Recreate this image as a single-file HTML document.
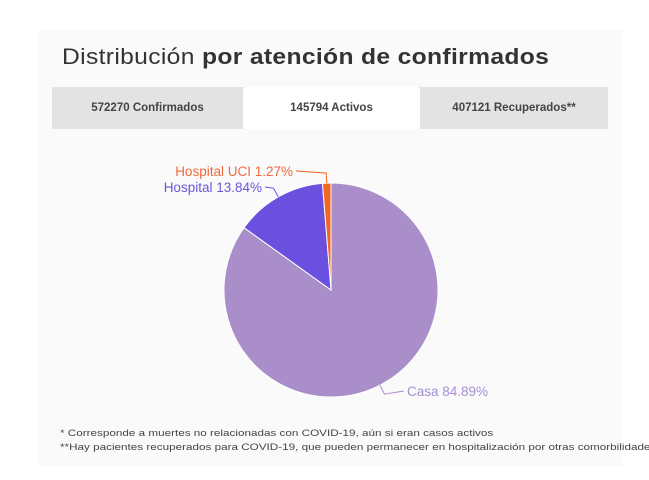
<!DOCTYPE html>
<html><head><meta charset="utf-8"><style>
body{margin:0;width:649px;height:480px;background:#fff;font-family:"Liberation Sans",sans-serif;position:relative;overflow:hidden}
#card{position:absolute;left:38px;top:30px;width:584px;height:436px;background:#fafafa}
h1{position:absolute;left:62px;top:44px;margin:0;font-size:22px;font-weight:normal;color:#333;letter-spacing:0.3px;transform:scaleX(1.12);transform-origin:left;white-space:nowrap}
h1 b{font-weight:bold}
.tabs{position:absolute;left:52px;top:87px;width:556px;height:42px;background:#e3e3e3;display:flex}
.tab{font-size:11.5px;font-weight:bold;color:#444;display:flex;align-items:center;justify-content:center}
.tab.active{background:#fff;border-radius:3px 3px 0 0}
.fn{position:absolute;left:60px;font-size:9.5px;color:#444;white-space:nowrap;transform:scaleX(1.23);transform-origin:left}
</style></head><body>
<div id="card"></div>
<h1>Distribución <b>por atención de confirmados</b></h1>
<div class="tabs">
<div class="tab" style="width:191px">572270 Confirmados</div>
<div class="tab active" style="width:177px">145794 Activos</div>
<div class="tab" style="width:188px">407121 Recuperados**</div>
</div>
<svg id="pie" width="649" height="480" style="position:absolute;left:0;top:0"></svg>
<div class="fn" style="top:428px">* Corresponde a muertes no relacionadas con COVID-19, aún si eran casos activos</div>
<div class="fn" style="top:442px">**Hay pacientes recuperados para COVID-19, que pueden permanecer en hospitalización por otras comorbilidades</div>
<script>
const categories=["Casa","Hospital","Hospital UCI"];
const values=[84.89,13.84,1.27];
const colors=["#a98ec9","#6b4fde","#f26522"];
const labelColors=["#a58fd3","#6a58d6","#f06a3c"];
const svg=document.getElementById('pie');
const NS="http://www.w3.org/2000/svg";
const cx=331,cy=290,r=107;
const total=values.reduce((a,b)=>a+b,0);
function pt(a,rad){return [cx+rad*Math.sin(a),cy-rad*Math.cos(a)];}
let start=0;
const labelPos=[[407,396,"start"],[262,192,"end"],[293,176,"end"]];
values.forEach((v,i)=>{
  const ang=v/total*2*Math.PI,end=start+ang;
  const [x1,y1]=pt(start,r),[x2,y2]=pt(end,r);
  const p=document.createElementNS(NS,'path');
  p.setAttribute('d',`M${cx},${cy}L${x1},${y1}A${r},${r} 0 ${ang>Math.PI?1:0} 1 ${x2},${y2}Z`);
  p.setAttribute('fill',colors[i]);p.setAttribute('stroke','#fff');p.setAttribute('stroke-width','1');
  
  
  svg.appendChild(p);
  const mid=(start+end)/2;
  const [ax,ay]=pt(mid,r),[bx,by]=pt(mid,r+10);
  const [lx,ly,anc]=labelPos[i];
  const ln=document.createElementNS(NS,'path');
  ln.setAttribute('d',`M${ax},${ay}L${bx},${by}L${lx+(anc==="start"?-3:3)},${ly-5}`);
  ln.setAttribute('fill','none');ln.setAttribute('stroke',colors[i]);ln.setAttribute('stroke-width','1');
  
  
  svg.appendChild(ln);
  const t=document.createElementNS(NS,'text');
  t.setAttribute('x',lx);t.setAttribute('y',ly);t.setAttribute('text-anchor',anc);
  t.setAttribute('font-size','13.5');t.setAttribute('fill',labelColors[i]);
  t.setAttribute('font-family','Liberation Sans, sans-serif');
  t.textContent=categories[i]+" "+v.toFixed(2)+"%";
  
  
  svg.appendChild(t);
  start=end;
});
</script>
</body></html>
